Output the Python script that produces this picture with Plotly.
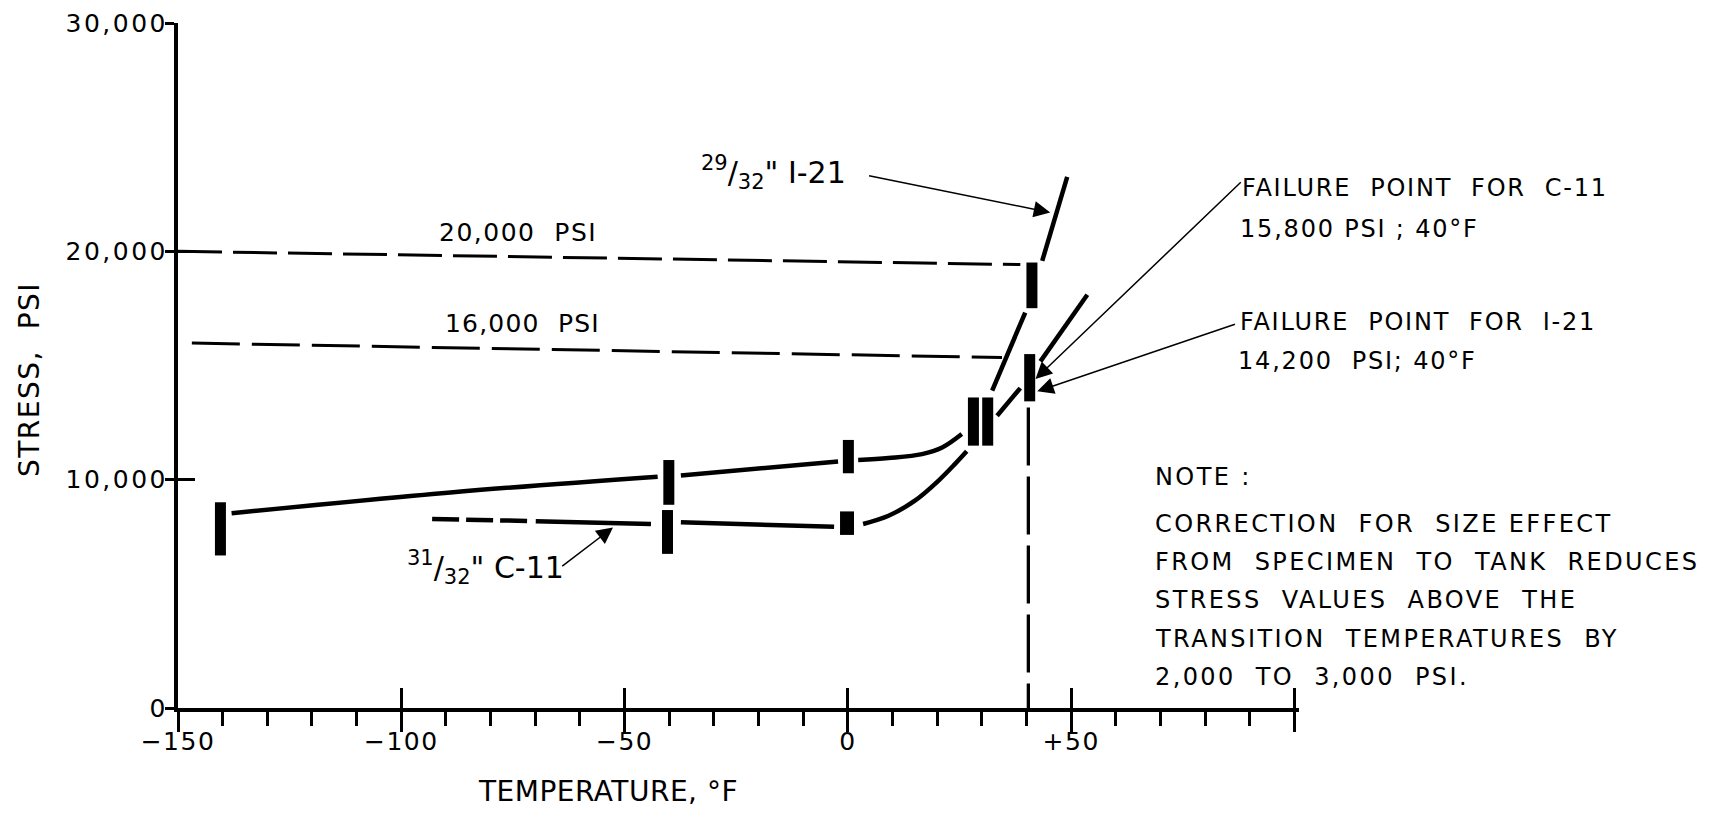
import plotly.graph_objects as go

# ---------------- data ----------------
# upper solid curve (29/32" I-21), segments separated by None
upper_temp = [-138, -89, -42.6, None, -37.4, -2.2, None, 2.3, 9.1, 16.6, 21.1, 25.5,
              None, 32.3, 39.7, None, 43.5, 49.1]
upper_stress = [8530, 9440, 10130, None, 10180, 10800, None, 10860, 10950, 11120, 11410, 12000,
                None, 13900, 17320, None, 19580, 23260]

# lower curve (31/32" C-11): dashed start, then solid segments
lower_dash_temp = [-93.1, -71.7]
lower_dash_stress = [8280, 8190]
lower_temp = [-69.9, -44.1, None, -37.4, -3.1, None, 3.4, 9.1, 15.0, 20.3, 24.0, 26.6,
              None, 33.4, 38.6, None, 43.1, 53.6]
lower_stress = [8180, 8060, None, 8130, 7940, None, 8060, 8420, 9080, 9960, 10690, 11240,
                None, 12800, 14010, None, 15180, 18100]

# test result bands (vertical bars): temperature, low and high stress
bar_temp = [-140.5, -40.1, 0.1, 31.3, 41.2, -40.4, 28.1, 40.7]
bar_low = [6680, 8900, 10280, 11490, 17510, 6750, 11490, 13430]
bar_high = [9010, 10860, 11740, 13600, 19510, 8670, 13600, 15500]
wide_bar_temp = [-0.2]
wide_bar_low = [7580]
wide_bar_high = [8610]

# reference dashed lines
psi20_temp = [-150, 38.6]
psi20_stress = [20000, 19420]
psi16_temp = [-146.9, 34.5]
psi16_stress = [15980, 15350]
fail_temp = [40.4, 40.4]
fail_stress = [13160, 0]

# axes
x_tickvals = [-150, -100, -50, 0, 50, 100]
x_ticktext = ["\u2212150", "\u2212100", "\u221250", "0", "+50", ""]
y_tickvals = [0, 10000, 20000, 30000]
y_ticktext = ["0", "10,000", "20,000", "30,000"]

note_title = "NOTE :"
note_lines = ["CORRECTION  FOR  SIZE EFFECT",
              "FROM  SPECIMEN  TO  TANK  REDUCES",
              "STRESS  VALUES  ABOVE  THE",
              "TRANSITION  TEMPERATURES  BY",
              "2,000  TO  3,000  PSI."]

FONT = "DejaVu Sans"
BLACK = "black"


def spaced(t, px):
    return '<span style="letter-spacing:%spx">%s</span>' % (px, t)


def bands(xs, lo, hi):
    bx, by = [], []
    for x, a, b in zip(xs, lo, hi):
        bx += [x, x, None]
        by += [a, b, None]
    return bx, by


fig = go.Figure()

bx, by = bands(bar_temp, bar_low, bar_high)
fig.add_trace(go.Scatter(x=bx, y=by, mode="lines", line=dict(color=BLACK, width=11),
                         showlegend=False, hoverinfo="skip"))
wx, wy = bands(wide_bar_temp, wide_bar_low, wide_bar_high)
fig.add_trace(go.Scatter(x=wx, y=wy, mode="lines", line=dict(color=BLACK, width=14),
                         showlegend=False, hoverinfo="skip"))

fig.add_trace(go.Scatter(x=upper_temp, y=upper_stress, mode="lines",
                         line=dict(color=BLACK, width=4.5, shape="spline"),
                         connectgaps=False, showlegend=False))
fig.add_trace(go.Scatter(x=lower_temp, y=lower_stress, mode="lines",
                         line=dict(color=BLACK, width=4.5, shape="spline"),
                         connectgaps=False, showlegend=False))
fig.add_trace(go.Scatter(x=lower_dash_temp, y=lower_dash_stress, mode="lines",
                         line=dict(color=BLACK, width=4.5, dash="27px,7px"),
                         showlegend=False))

fig.add_trace(go.Scatter(x=psi20_temp, y=psi20_stress, mode="lines",
                         line=dict(color=BLACK, width=3, dash="44px,11px"), showlegend=False))
fig.add_trace(go.Scatter(x=psi16_temp, y=psi16_stress, mode="lines",
                         line=dict(color=BLACK, width=3, dash="48px,12px"), showlegend=False))
fig.add_trace(go.Scatter(x=fail_temp, y=fail_stress, mode="lines",
                         line=dict(color=BLACK, width=3.3, dash="58px,11px"), showlegend=False,
                         xaxis="x2", yaxis="y2"))

XR = [-150, 101]
YR = [0, 30000]

fig.update_layout(
    width=1704, height=802,
    margin=dict(l=170, r=413, t=15, b=102, autoexpand=False),
    paper_bgcolor="white", plot_bgcolor="white",
    font=dict(family=FONT, color=BLACK, size=24),
    xaxis=dict(range=XR, showgrid=False, zeroline=False, showline=True, linecolor=BLACK,
               linewidth=3.5, ticks="outside", ticklen=20, tickwidth=2.5, tickcolor=BLACK,
               tickvals=x_tickvals, ticktext=[spaced(t, 1.5) for t in x_ticktext],
               tickfont=dict(size=25, family=FONT), automargin=False,
               minor=dict(dtick=10, tick0=-150, ticks="outside", ticklen=14, tickwidth=2.5,
                          tickcolor=BLACK, showgrid=False),
               ticklabelstandoff=-12),
    yaxis=dict(range=YR, showgrid=False, zeroline=False, showline=True, linecolor=BLACK,
               linewidth=4, ticks="outside", ticklen=9, tickwidth=2.5, tickcolor=BLACK,
               tickvals=y_tickvals, ticktext=[spaced(t, 2.5) for t in y_ticktext],
               tickfont=dict(size=25, family=FONT), automargin=False,
               ticklabelstandoff=-8),
    xaxis2=dict(range=XR, overlaying="x", anchor="y2", side="bottom", showgrid=False,
                zeroline=False, showline=False, ticks="inside", ticklen=20, tickwidth=2.5,
                tickcolor=BLACK, tickvals=x_tickvals[1:], showticklabels=False,
                automargin=False),
    yaxis2=dict(range=YR, overlaying="y", anchor="x2", side="left", showgrid=False,
                zeroline=False, showline=False, ticks="inside", ticklen=17, tickwidth=2.5,
                tickcolor=BLACK, tickvals=y_tickvals, showticklabels=False,
                automargin=False),
)

ann = []
# axis titles
ann.append(dict(xref="paper", yref="paper", x=0.384, y=-0.122, text=spaced("TEMPERATURE, °F", 0.5),
                showarrow=False, font=dict(size=28, family=FONT), xanchor="center", yanchor="middle"))
ann.append(dict(xref="paper", yref="paper", x=-0.133, y=0.48, text=spaced("STRESS,  PSI", 1.5),
                textangle=-90, showarrow=False, font=dict(size=28, family=FONT),
                xanchor="center", yanchor="middle"))


def label(x, y, t, ls=1.5, size=24):
    ann.append(dict(x=x, y=y, text=spaced(t, ls), showarrow=False, xanchor="left",
                    yanchor="middle", font=dict(size=size, family=FONT)))


def arrow(x, y, ax, ay):
    ann.append(dict(x=x, y=y, ax=ax, ay=ay, axref="x", ayref="y", text="", showarrow=True,
                    arrowhead=2, arrowsize=2.2, arrowwidth=1.5, arrowcolor=BLACK, standoff=0,
                    startstandoff=0))


label(-91.9, 20830, "20,000  PSI", 1.5, 25)
label(-90.7, 16820, "16,000  PSI", 1.2, 25)
ann.append(dict(x=-33.4, y=23450, text='<sup>29</sup>/<sub>32</sub>" I-21', showarrow=False,
                xanchor="left", yanchor="middle", font=dict(size=30, family=FONT)))
ann.append(dict(x=-99.2, y=6160, text='<sup>31</sup>/<sub>32</sub>" C-11', showarrow=False,
                xanchor="left", yanchor="middle", font=dict(size=30, family=FONT)))
arrow(45.3, 21700, 4.4, 23320)
arrow(-52.6, 7910, -64.3, 6160)

label(87.9, 22760, "FAILURE  POINT  FOR  C-11", 1.8)
label(87.3, 20970, "15,800 PSI ; 40°F", 1.8)
label(87.3, 16920, "FAILURE  POINT  FOR  I-21", 1.8)
label(87.0, 15210, "14,200  PSI; 40°F", 1.8)
arrow(42.0, 14410, 88.3, 23085)
arrow(42.4, 13870, 87.0, 16830)

label(68.2, 10120, note_title, 2.4)
note_y0 = 8080
note_dy = 1680
for i, t in enumerate(note_lines):
    label(68.2, note_y0 - i * note_dy, t, 2.4)

fig.update_layout(annotations=ann)
fig.write_html("out.html")
